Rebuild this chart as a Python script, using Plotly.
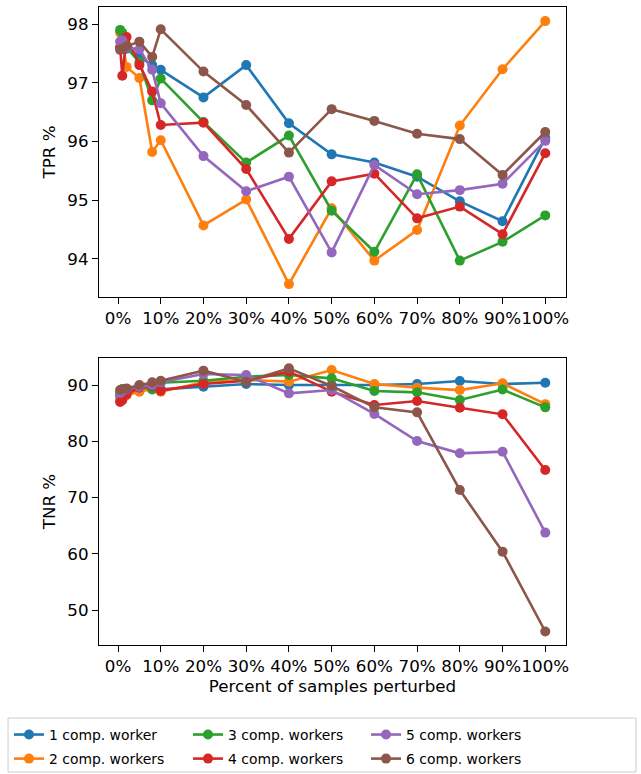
import plotly.graph_objects as go

x_pct = [0.5, 1, 2, 5, 8, 10, 20, 30, 40, 50, 60, 70, 80, 90, 100]
x_tickvals = [0, 10, 20, 30, 40, 50, 60, 70, 80, 90, 100]
x_ticktext = ["0%", "10%", "20%", "30%", "40%", "50%", "60%", "70%", "80%", "90%", "100%"]

names = ["1 comp. worker", "2 comp. workers", "3 comp. workers",
         "4 comp. workers", "5 comp. workers", "6 comp. workers"]
colors = ["#1f77b4", "#ff7f0e", "#2ca02c", "#d62728", "#9467bd", "#8c564b"]

tpr_w1 = [97.60, 97.62, 97.58, 97.45, 97.30, 97.22, 96.75, 97.30, 96.31, 95.78, 95.64, 95.40, 94.98, 94.64, 96.06]
tpr_w2 = [97.85, 97.75, 97.27, 97.08, 95.82, 96.02, 94.57, 95.01, 93.57, 94.86, 93.97, 94.49, 96.27, 97.23, 98.05]
tpr_w3 = [97.90, 97.85, 97.60, 97.35, 96.70, 97.07, 96.33, 95.64, 96.10, 94.82, 94.12, 95.44, 93.97, 94.29, 94.74]
tpr_w4 = [97.60, 97.12, 97.78, 97.30, 96.85, 96.28, 96.32, 95.53, 94.34, 95.32, 95.45, 94.69, 94.89, 94.42, 95.80]
tpr_w5 = [97.70, 97.72, 97.60, 97.57, 97.22, 96.65, 95.75, 95.15, 95.40, 94.11, 95.60, 95.10, 95.17, 95.28, 96.01]
tpr_w6 = [97.56, 97.58, 97.62, 97.70, 97.44, 97.91, 97.19, 96.62, 95.81, 96.55, 96.35, 96.13, 96.04, 95.43, 96.16]

tnr_w1 = [88.0, 88.5, 89.0, 89.3, 89.3, 89.23, 89.70, 90.18, 90.00, 90.00, 90.00, 90.18, 90.71, 90.18, 90.41]
tnr_w2 = [87.2, 87.5, 88.2, 88.8, 89.3, 88.80, 90.50, 90.90, 90.60, 92.66, 90.18, 89.53, 89.10, 90.30, 86.60]
tnr_w3 = [88.5, 88.8, 89.3, 89.8, 89.2, 90.40, 90.77, 91.48, 91.78, 91.18, 88.93, 88.70, 87.33, 89.20, 86.03]
tnr_w4 = [87.0, 87.3, 88.3, 89.5, 89.8, 89.00, 90.18, 90.77, 92.37, 88.82, 86.45, 87.16, 85.97, 84.79, 74.90]
tnr_w5 = [88.6, 89.0, 89.3, 89.7, 90.0, 90.50, 91.95, 91.78, 88.52, 89.11, 84.85, 80.05, 77.86, 78.16, 63.77]
tnr_w6 = [89.1, 89.3, 89.4, 90.0, 90.47, 90.77, 92.55, 90.60, 92.96, 89.82, 86.03, 85.14, 71.35, 60.39, 46.20]

tpr = [tpr_w1, tpr_w2, tpr_w3, tpr_w4, tpr_w5, tpr_w6]
tnr = [tnr_w1, tnr_w2, tnr_w3, tnr_w4, tnr_w5, tnr_w6]
legend_ids = ["legend", "legend", "legend2", "legend2", "legend3", "legend3"]

FS = 16.7
LFS = 13.9
font = dict(family="DejaVu Sans", size=FS, color="black")
lfont = dict(family="DejaVu Sans", size=LFS, color="black")

fig = go.Figure()
for i in range(6):
    fig.add_trace(go.Scatter(
        x=x_pct, y=tpr[i], name=names[i], mode="lines+markers",
        line=dict(color=colors[i], width=2.6),
        marker=dict(color=colors[i], size=10),
        xaxis="x", yaxis="y", legend=legend_ids[i], legendgroup="g%d" % i,
        showlegend=True,
    ))
for i in range(6):
    fig.add_trace(go.Scatter(
        x=x_pct, y=tnr[i], name=names[i], mode="lines+markers",
        line=dict(color=colors[i], width=2.6),
        marker=dict(color=colors[i], size=10),
        xaxis="x2", yaxis="y2", showlegend=False,
    ))

axis_common = dict(showline=True, mirror=True, linecolor="black", linewidth=1.3,
                   ticks="outside", ticklen=6, tickwidth=1.3, tickcolor="black",
                   showgrid=False, zeroline=False, tickfont=font)

L, R, T, B = 99, 75, 7, 129
W, H = 641, 774
ph = H - T - B
def py(px):
    return (H - B - px) / ph
def pxr(px):
    return (px - L) / (W - L - R)

legend_common = dict(orientation="v", xanchor="left", yanchor="top",
                     bgcolor="rgba(0,0,0,0)", borderwidth=0, font=lfont,
                     itemwidth=30, tracegroupgap=3)

fig.update_layout(
    width=W, height=H,
    margin=dict(l=L, r=R, t=T, b=B, autoexpand=False),
    plot_bgcolor="white", paper_bgcolor="white",
    font=font,
    xaxis=dict(domain=[0, 1], anchor="y", tickvals=x_tickvals, ticktext=x_ticktext,
               tickangle=0, range=[-4.45, 104.85], **axis_common),
    yaxis=dict(domain=[py(297), 1], anchor="x", range=[93.35, 98.29], dtick=1,
               title=dict(text="TPR %", font=font, standoff=7), **axis_common),
    xaxis2=dict(domain=[0, 1], anchor="y2", tickvals=x_tickvals, ticktext=x_ticktext,
                tickangle=0, range=[-4.45, 104.85],
                title=dict(text="Percent of samples perturbed", font=font, standoff=5),
                **axis_common),
    yaxis2=dict(domain=[0, py(358)], anchor="x2", range=[43.8, 94.8], dtick=10,
                title=dict(text="TNR %", font=font, standoff=7), **axis_common),
    legend=dict(x=pxr(9), y=py(719), **legend_common),
    legend2=dict(x=pxr(188), y=py(719), **legend_common),
    legend3=dict(x=pxr(366), y=py(719), **legend_common),
    shapes=[dict(type="rect", xref="paper", yref="paper",
                 x0=pxr(8), x1=pxr(636), y0=py(772), y1=py(718),
                 line=dict(color="#cccccc", width=1), fillcolor="rgba(0,0,0,0)")],
)

fig.write_html("out.html", config={"displayModeBar": False},
               post_script="document.body.style.margin='0';document.body.style.padding='0';")
